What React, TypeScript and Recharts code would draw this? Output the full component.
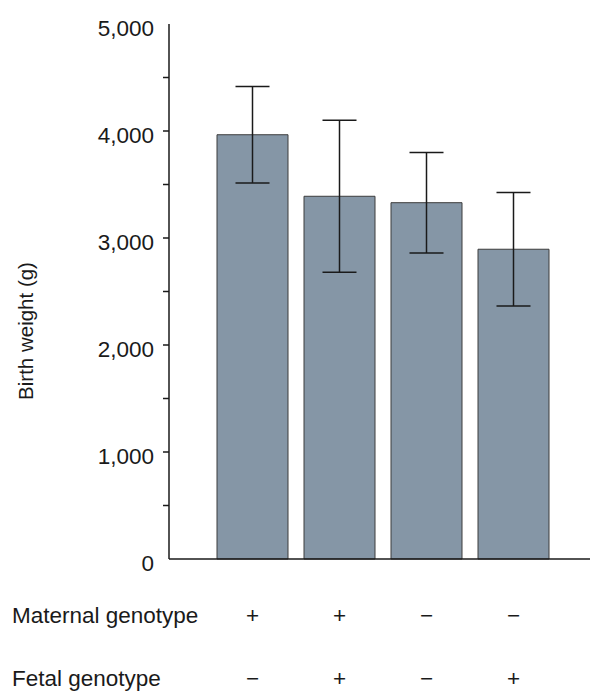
import { Bar, BarChart, ErrorBar, XAxis, YAxis } from 'recharts'

// genotype groups, left to right
const groups = ['g1', 'g2', 'g3', 'g4']
const maternal = ['+', '+', '−', '−']
const fetal = ['−', '+', '−', '+']
// birth weight (g), mean and error
const birthWeight = [3965, 3390, 3330, 2895]
const weightError = [450, 710, 470, 530]
const weightTicks = [0, 500, 1000, 1500, 2000, 2500, 3000, 3500, 4000, 4500, 5000]

const rowTitles = ['Maternal genotype', 'Fetal genotype']

const FONT = '"Liberation Sans", Arial, Helvetica, sans-serif'
const INK = '#1a1a1a'
const BAR_FILL = '#8596a6'
const AXIS_X = 161 // right edge of the y axis area, chart coords
const PLOT_BOTTOM = 551

const data = groups.map((g, i) => ({
  group: g,
  weight: birthWeight[i],
  err: weightError[i],
  maternal: maternal[i],
  fetal: fetal[i],
}))

const TEXT_STYLE = { fontFamily: FONT, fontSize: 22.5, fill: INK } as const

function WeightTick(props: any) {
  const { y, payload } = props
  const v = payload.value as number
  return (
    <g>
      {v > 0 && v < 5000 && (
        <line x1={AXIS_X - 6} x2={AXIS_X} y1={y} y2={y} stroke={INK} strokeWidth={1.5} />
      )}
      {v % 1000 === 0 && (
        <text x={AXIS_X - 15} y={y + 11.5} textAnchor="end" style={TEXT_STYLE}>
          {v.toLocaleString('en-US')}
        </text>
      )}
    </g>
  )
}

function GenotypeTick(props: any) {
  const { x, index } = props
  const row = data[index]
  return (
    <g>
      <text x={x} y={PLOT_BOTTOM + 64} textAnchor="middle" style={TEXT_STYLE}>
        {row.maternal}
      </text>
      <text x={x} y={PLOT_BOTTOM + 127} textAnchor="middle" style={TEXT_STYLE}>
        {row.fetal}
      </text>
    </g>
  )
}

function RowTitles() {
  return (
    <g>
      <text x={4} y={PLOT_BOTTOM + 64} style={TEXT_STYLE}>
        {rowTitles[0]}
      </text>
      <text x={4} y={PLOT_BOTTOM + 127} style={TEXT_STYLE}>
        {rowTitles[1]}
      </text>
    </g>
  )
}

function WeightTitle() {
  return (
    <text
      x={25}
      y={323}
      transform="rotate(-90, 25, 323)"
      textAnchor="middle"
      style={{ fontFamily: FONT, fontSize: 20.5, fill: INK }}
    >
      Birth weight (g)
    </text>
  )
}

export default function App() {
  return (
    <div style={{ width: 584, height: 692, fontFamily: FONT, background: '#fff' }}>
      <BarChart width={584} height={692} data={data} margin={{ top: 16, right: 2, bottom: 0, left: 0 }}>
        <XAxis
          dataKey="group"
          height={141}
          padding={{ left: 40, right: 33 }}
          axisLine={{ stroke: INK, strokeWidth: 1.5 }}
          tickLine={false}
          tick={<GenotypeTick />}
          interval={0}
          label={{ content: () => <RowTitles /> }}
        />
        <YAxis
          type="number"
          domain={[0, 5000]}
          ticks={weightTicks}
          interval={0}
          width={AXIS_X}
          axisLine={{ stroke: INK, strokeWidth: 1.5 }}
          tickLine={false}
          tick={<WeightTick />}
          label={{ content: () => <WeightTitle /> }}
        />
        <Bar
          dataKey="weight"
          barSize={71}
          fill={BAR_FILL}
          stroke="#3c3c3c"
          strokeWidth={1}
          isAnimationActive={false}
        >
          <ErrorBar dataKey="err" width={17} stroke={INK} strokeWidth={1.5} isAnimationActive={false} />
        </Bar>
      </BarChart>
    </div>
  )
}
